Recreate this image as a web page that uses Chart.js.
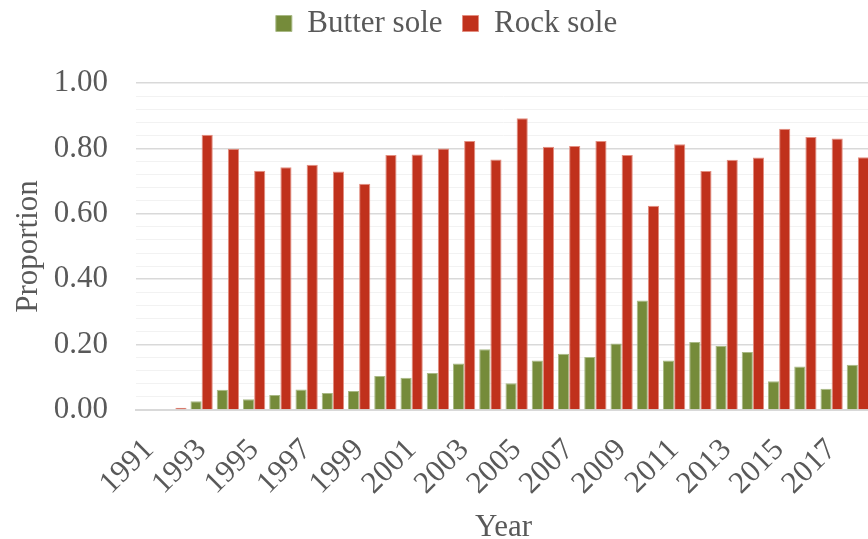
<!DOCTYPE html>
<html>
<head>
<meta charset="utf-8">
<script src="https://cdn.jsdelivr.net/npm/chart.js@4/dist/chart.umd.min.js"></script>
<style>
  html, body { margin: 0; padding: 0; background: #fff; overflow: hidden; }
  #wrap { width: 893px; height: 539px; }
</style>
</head>
<body>
<div id="wrap"><canvas id="soleChart"></canvas></div>
<script>
// Years on the x axis
const years = ['1991', '1992', '1993', '1994', '1995', '1996', '1997', '1998', '1999', '2000',
  '2001', '2002', '2003', '2004', '2005', '2006', '2007', '2008', '2009', '2010',
  '2011', '2012', '2013', '2014', '2015', '2016', '2017', '2018'];

// Proportions
const butterSole = [0, 0, 0.027, 0.062, 0.033, 0.046, 0.063, 0.052, 0.058, 0.104,
  0.099, 0.113, 0.142, 0.186, 0.082, 0.151, 0.172, 0.162, 0.203, 0.335,
  0.151, 0.208, 0.196, 0.177, 0.088, 0.133, 0.065, 0.138];
const rockSole = [0, 0.007, 0.842, 0.799, 0.732, 0.742, 0.750, 0.729, 0.692, 0.780,
  0.781, 0.800, 0.823, 0.766, 0.892, 0.805, 0.807, 0.823, 0.780, 0.625,
  0.813, 0.731, 0.765, 0.772, 0.860, 0.835, 0.830, 0.773];

// y axis: labels every 0.2, minor gridlines every 0.04
const yMin = 0, yMax = 1, yStep = 0.04, yLabelStep = 0.2;

const textColor = '#595959';
const serif = '"Liberation Serif", "Times New Roman", serif';

function isMajor(v) {
  const r = v / yLabelStep;
  return Math.abs(r - Math.round(r)) < 1e-6;
}

const ctx = document.getElementById('soleChart');
new Chart(ctx, {
  type: 'bar',
  data: {
    labels: years,
    datasets: [
      {
        label: 'Butter sole',
        data: butterSole,
        backgroundColor: '#758B3A',
        borderColor: '#A9B985',
        borderWidth: 1,
        categoryPercentage: 0.85,
        barPercentage: 1.0
      },
      {
        label: 'Rock sole',
        data: rockSole,
        backgroundColor: '#C0311C',
        borderColor: '#E38E80',
        borderWidth: 1,
        categoryPercentage: 0.85,
        barPercentage: 1.0
      }
    ]
  },
  options: {
    responsive: true,
    maintainAspectRatio: false,
    animation: false,
    layout: { padding: { top: -12, right: 22, bottom: 0, left: 22 } },
    plugins: {
      legend: {
        position: 'top',
        labels: {
          color: textColor,
          font: { family: serif, size: 31 },
          boxWidth: 16,
          boxHeight: 16,
          padding: 20
        }
      },
      // empty spacer between the legend and the plot
      subtitle: {
        display: true,
        text: ' ',
        position: 'top',
        weight: 500,
        font: { size: 10, lineHeight: 1 },
        padding: { top: 0, bottom: 24 }
      },
      tooltip: { enabled: false }
    },
    scales: {
      x: {
        grid: { display: false },
        border: { display: true, color: '#d9d9d9', width: 2 },
        ticks: {
          color: textColor,
          font: { family: serif, size: 31 },
          autoSkip: false,
          maxRotation: 45,
          minRotation: 45,
          padding: 14,
          callback: function(value, index) {
            return index % 2 === 0 ? years[index] : '';
          }
        },
        title: {
          display: true,
          text: 'Year',
          color: textColor,
          font: { family: serif, size: 31, lineHeight: 1 },
          padding: { top: 0, bottom: -4 }
        },
        afterFit: function(scale) {
          scale.height = 129;
          scale.paddingRight = 0;
        }
      },
      y: {
        min: yMin,
        max: yMax,
        border: { display: false },
        grid: {
          drawTicks: false,
          color: c => isMajor(c.tick.value) ? '#d9d9d9' : '#f2f2f2',
          lineWidth: c => isMajor(c.tick.value) ? 1.5 : 1
        },
        ticks: {
          stepSize: yStep,
          autoSkip: false,
          color: textColor,
          font: { family: serif, size: 31 },
          padding: 28,
          callback: function(value) {
            return isMajor(value) ? value.toFixed(2) : '';
          }
        },
        title: {
          display: true,
          text: 'Proportion',
          color: textColor,
          font: { family: serif, size: 31 },
          padding: { top: -12, bottom: 0 }
        },
        afterFit: function(scale) { scale.width = 114; }
      }
    }
  }
});
</script>
</body>
</html>
